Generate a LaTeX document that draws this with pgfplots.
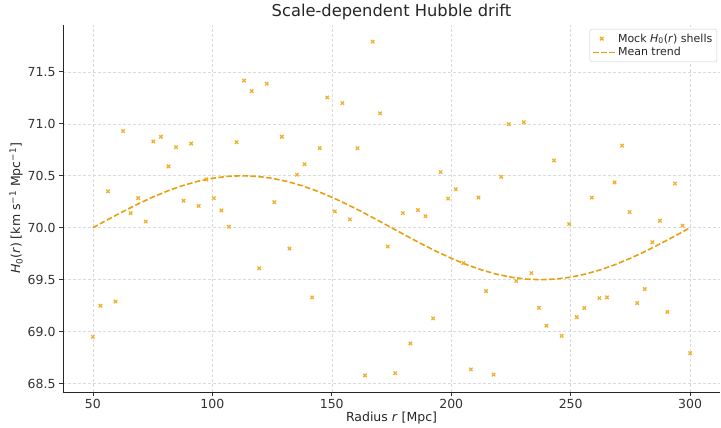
\documentclass[border=0pt]{standalone}
\usepackage{pgfplots}
\pgfplotsset{compat=1.18}
\usetikzlibrary{calc}
\usepackage{fontspec}
\setmainfont{DejaVu Sans}
\definecolor{shellcol}{HTML}{F0B030}
\definecolor{trendcol}{HTML}{E6A00E}
\definecolor{gridcol}{HTML}{DADADA}

\pgfplotstableread{
r H
50.00 68.95
53.16 69.25
56.33 70.35
59.49 69.29
62.66 70.93
65.82 70.14
68.99 70.285
72.15 70.06
75.32 70.83
78.48 70.875
81.65 70.59
84.81 70.775
87.97 70.26
91.14 70.81
94.30 70.21
97.47 70.465
100.63 70.285
103.80 70.166
106.96 70.01
110.13 70.823
113.29 71.416
116.46 71.313
119.62 69.61
122.78 71.385
125.95 70.246
129.11 70.875
132.28 69.80
135.44 70.51
138.61 70.61
141.77 69.33
144.94 70.765
148.10 71.253
151.27 70.157
154.43 71.198
157.59 70.08
160.76 70.765
163.92 68.58
167.09 71.79
170.25 71.10
173.42 69.82
176.58 68.60
179.75 70.14
182.91 68.887
186.08 70.17
189.24 70.11
192.41 69.128
195.57 70.535
198.73 70.28
201.90 70.37
205.06 69.66
208.23 68.638
211.39 70.29
214.56 69.39
217.72 68.587
220.89 70.49
224.05 70.996
227.22 69.487
230.38 71.015
233.54 69.563
236.71 69.23
239.87 69.058
243.04 70.647
246.20 68.96
249.37 70.035
252.53 69.14
255.70 69.227
258.86 70.29
262.03 69.323
265.19 69.33
268.35 70.436
271.52 70.79
274.68 70.15
277.85 69.275
281.01 69.41
284.18 69.86
287.34 70.067
290.51 69.19
293.67 70.426
296.84 70.02
300.00 68.794
}\shells

\pgfplotstableread{
r H
50.00 70.0000
56.25 70.0782
62.50 70.1545
68.75 70.2270
75.00 70.2939
81.25 70.3536
87.50 70.4045
93.75 70.4455
100.00 70.4755
106.25 70.4938
112.50 70.5000
118.75 70.4938
125.00 70.4755
131.25 70.4455
137.50 70.4045
143.75 70.3536
150.00 70.2939
156.25 70.2270
162.50 70.1545
168.75 70.0782
175.00 70.0000
181.25 69.9218
187.50 69.8455
193.75 69.7730
200.00 69.7061
206.25 69.6464
212.50 69.5955
218.75 69.5545
225.00 69.5245
231.25 69.5062
237.50 69.5000
243.75 69.5062
250.00 69.5245
256.25 69.5545
262.50 69.5955
268.75 69.6464
275.00 69.7061
281.25 69.7730
287.50 69.8455
293.75 69.9218
300.00 70.0000
}\trend

\begin{document}
\begin{tikzpicture}
\begin{axis}[
  name=main,
  width=657pt, height=367pt,
  scale only axis,
  xmin=37.5, xmax=312.5,
  ymin=68.42, ymax=71.95,
  axis lines=left,
  axis line style={-, line width=0.8pt, black!85},
  xtick={50,100,150,200,250,300},
  ytick={68.5,69.0,69.5,70.0,70.5,71.0,71.5},
  yticklabel style={/pgf/number format/.cd, fixed, fixed zerofill, precision=1},
  /pgf/number format/assume math mode=true,
  ticklabel style={font=\fontsize{12.5}{14}\selectfont, text=black!80},
  tick align=outside,
  major tick length=4pt,
  tick style={black!80, line width=0.7pt},
  grid=major,
  major grid style={gridcol, densely dashed, line width=0.5pt},
  xlabel={Radius \textit{r} [Mpc]},
  ylabel={\textit{H}\textsubscript{0}(\textit{r}) [km s\textsuperscript{−1} Mpc\textsuperscript{−1}]},
  label style={font=\fontsize{12.5}{14}\selectfont, text=black!85},
  xlabel style={yshift=4pt},
  ylabel style={yshift=-2pt},
  title={Scale-dependent Hubble drift},
  title style={font=\fontsize{16.3}{18}\selectfont, text=black!85, yshift=-4pt},
  legend style={at={(1,1)}, anchor=north east, xshift=-3pt, yshift=-4pt,
    draw=black!20, rounded corners=2pt, fill=white,
    font=\fontsize{11}{13}\selectfont, text=black!85,
    inner sep=2.5pt},
  legend cell align=left,
  clip=false,
]
\addplot[only marks, mark=x, mark size=2.4pt, mark options={line width=1.3pt, shellcol}]
  table[x=r, y=H] {\shells};
\addlegendentry{Mock \textit{H}\textsubscript{0}(\textit{r}) shells}
\addplot[color=trendcol, line width=1.6pt, dash pattern=on 5.5pt off 2.5pt,
  legend image code/.code={\draw[color=trendcol, line width=1.6pt, dash pattern=on 5.5pt off 2.5pt] (0pt,0pt) -- (22pt,0pt);}]
  table[x=r, y=H] {\trend};
\addlegendentry{Mean trend}
\end{axis}
\pgfresetboundingbox
\path[use as bounding box] ($(main.south west)+(-63pt,-36pt)$) rectangle ($(main.north east)+(1pt,25pt)$);
\end{tikzpicture}
\end{document}
